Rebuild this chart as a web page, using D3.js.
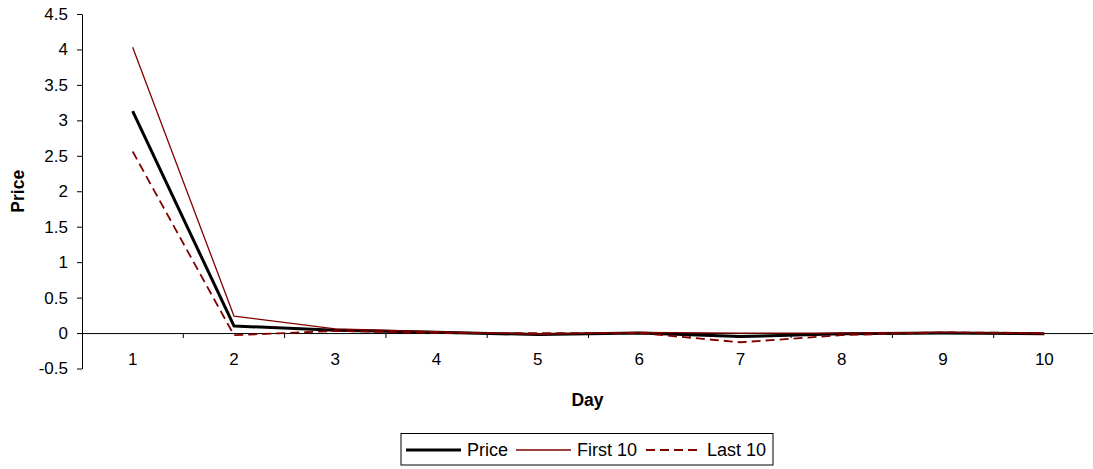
<!DOCTYPE html>
<html>
<head>
<meta charset="utf-8">
<script src="https://cdn.jsdelivr.net/npm/d3@7"></script>
<style>
  body { margin: 0; background: #fff; }
  text { font-family: "Liberation Sans", Arial, sans-serif; fill: #000; }
</style>
</head>
<body>
<div id="chart"></div>
<script>
// chart values
const days = [1, 2, 3, 4, 5, 6, 7, 8, 9, 10];
const price = [3.13, 0.10, 0.04, 0.01, -0.02, 0.00, -0.05, -0.01, 0.00, -0.01];
const first10 = [4.03, 0.24, 0.06, 0.02, -0.02, 0.01, 0.00, 0.00, 0.01, -0.01];
const last10 = [2.56, -0.03, 0.03, 0.00, 0.00, 0.00, -0.13, -0.03, 0.01, 0.00];
const yTicks = [-0.5, 0, 0.5, 1, 1.5, 2, 2.5, 3, 3.5, 4, 4.5];
const seriesNames = ['Price', 'First 10', 'Last 10'];

// size of the page and of the plot area
const width = 1093;
const height = 469;
const plot = { left: 82, right: 1095, top: 14, bottom: 368.5 };

const svg = d3.select('#chart')
  .append('svg')
    .attr('width', width)
    .attr('height', height);

// x is a category axis, one band per day
const x = d3.scaleBand()
  .domain(days)
  .range([plot.left, plot.right]);

const y = d3.scaleLinear()
  .domain([-0.5, 4.5])
  .range([plot.bottom, plot.top]);

// y axis on the left
const yAxis = svg.append('g')
  .attr('transform', `translate(${plot.left},0)`)
  .call(d3.axisLeft(y)
    .tickValues(yTicks)
    .tickFormat(d => String(d))
    .tickSize(5)
    .tickSizeOuter(0)
    .tickPadding(9));
yAxis.selectAll('text').style('font-size', '17px').attr('fill', '#000');
yAxis.selectAll('line, path').attr('stroke', '#000');

// x axis sits on zero, labels hang below it
const xAxis = svg.append('g')
  .attr('transform', `translate(0,${y(0)})`)
  .call(d3.axisBottom(x)
    .tickSize(0)
    .tickSizeOuter(0)
    .tickPadding(20));
xAxis.selectAll('text').style('font-size', '17px').attr('fill', '#000');
xAxis.select('path').attr('stroke', '#000');

// tick marks go between the categories
svg.append('g')
  .selectAll('line')
  .data(days.slice(0, -1))
  .join('line')
    .attr('x1', d => x(d) + x.bandwidth())
    .attr('x2', d => x(d) + x.bandwidth())
    .attr('y1', y(0))
    .attr('y2', y(0) + 5)
    .attr('stroke', '#000');

// axis titles
svg.append('text')
  .attr('x', (plot.left + 1093) / 2)
  .attr('y', 406)
  .attr('text-anchor', 'middle')
  .style('font-size', '17.5px')
  .style('font-weight', 'bold')
  .text('Day');

svg.append('text')
  .attr('transform', `translate(24,${(plot.top + plot.bottom) / 2}) rotate(-90)`)
  .attr('text-anchor', 'middle')
  .style('font-size', '17.5px')
  .style('font-weight', 'bold')
  .text('Price');

// the three series
const line = d3.line()
  .x((d, i) => x(days[i]) + x.bandwidth() / 2)
  .y(d => y(d));

const styles = [
  { color: '#000000', width: 3, dash: null },
  { color: '#800000', width: 1.3, dash: null },
  { color: '#800000', width: 1.8, dash: '9,5' }
];
const series = [price, first10, last10];

svg.append('g')
  .selectAll('path')
  .data(series)
  .join('path')
    .attr('d', d => line(d))
    .attr('fill', 'none')
    .attr('stroke', (d, i) => styles[i].color)
    .attr('stroke-width', (d, i) => styles[i].width)
    .attr('stroke-dasharray', (d, i) => styles[i].dash)
    .attr('stroke-linejoin', 'round');

// legend box under the chart
const legend = svg.append('g');
legend.append('rect')
  .attr('x', 401)
  .attr('y', 433.5)
  .attr('width', 372)
  .attr('height', 31.5)
  .attr('fill', '#fff')
  .attr('stroke', '#000')
  .attr('stroke-width', 1);

const itemX = [406, 516, 646];
const items = legend.selectAll('g.item')
  .data(seriesNames)
  .join('g')
    .attr('class', 'item')
    .attr('transform', (d, i) => `translate(${itemX[i]},450)`);

items.append('line')
  .attr('x1', 0)
  .attr('x2', 55)
  .attr('stroke', (d, i) => styles[i].color)
  .attr('stroke-width', (d, i) => styles[i].width)
  .attr('stroke-dasharray', (d, i) => styles[i].dash);

items.append('text')
  .attr('x', 61)
  .attr('y', 6)
  .style('font-size', '18px')
  .text(d => d);
</script>
</body>
</html>
